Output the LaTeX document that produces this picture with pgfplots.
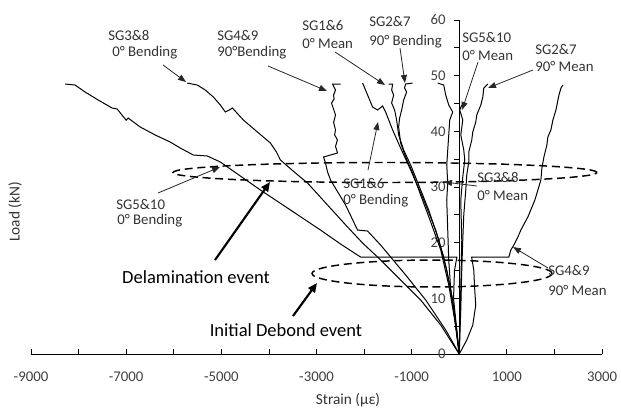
\documentclass[border=0pt]{standalone}
\usepackage{pgfplots}
\pgfplotsset{compat=1.18}
\usepackage{fontspec}
\setmainfont{Carlito}
\usetikzlibrary{arrows.meta}

\begin{document}
\begin{tikzpicture}
\useasboundingbox (0,0) rectangle (465.75pt,306pt);
\begin{axis}[
  at={(23.25pt,40.5pt)}, anchor=south west,
  scale only axis, width=428.25pt, height=250.5pt,
  xmin=-9000, xmax=3000, ymin=0, ymax=60,
  axis x line*=bottom, axis y line*=middle,
  xtick={-9000,-7000,-5000,-3000,-1000,1000,3000},
  xticklabels={-9000,-7000,-5000,-3000,-1000,1000,3000},
  minor xtick={-8000,-6000,-4000,-2000,0,2000},
  ytick={0,10,20,30,40,50,60}, yticklabels={0,10,20,30,40,50,60},
  minor ytick={5,15,25,35,45,55},
  xtick align=inside, ytick align=outside,
  major tick length=3.75pt, minor tick length=3.75pt,
  hide obscured y ticks=false, hide obscured x ticks=false,
  scaled x ticks=false,
  tick style={black, line width=0.6pt},
  axis line style={black, line width=0.75pt},
  ticklabel style={font=\fontsize{11.1}{13}\selectfont, text=black!75},
  xticklabel style={yshift=-10pt},
  yticklabel style={xshift=-3pt},
  clip=false,
]
% SG5&10 0 deg Bending
\addplot[black, line width=0.75pt] coordinates {
(0,0) (-60,5) (-120,10) (-100,15) (-50,17.42) (-2074,17.42) (-2495,19.76) (-2916,22.27)
(-3547,25.87) (-4179,29.46) (-4600,31.97) (-5021,34.49) (-5295,35.57) (-5589,35.75)
(-5863,37.0) (-6074,38.08) (-6389,39.34) (-6705,40.78) (-6958,42.39) (-7000,42.0) (-7189,44.01)
(-7295,44.19) (-7589,45.63) (-7863,47.06) (-8074,48.32) (-8284,48.50)};
% SG3&8 0 deg Bending
\addplot[black, line width=0.75pt] coordinates {
(0,0) (-389,5.2) (-811,9.7) (-1337,14.2) (-1716,17.42) (-2032,19.94) (-2347,22.81)
(-2768,26.76) (-3189,30.72) (-3442,32.51) (-3758,34.85) (-3842,36.29) (-3968,37.90)
(-4242,39.88) (-4537,42.03) (-4768,44.19) (-4832,43.83) (-4916,43.47) (-5021,44.73)
(-5168,46.17) (-5337,47.42) (-5505,48.32) (-5716,48.68)};
% SG4&9 90 deg Bending
\addplot[black, line width=0.75pt] coordinates {
(0,0) (-284,4.31) (-705,9.70) (-1126,14.19) (-1442,17.42) (-1653,19.58) (-1926,22.09)
(-2137,22.27) (-2389,26.76) (-2705,31.26) (-2768,32.69) (-2811,34.31) (-2853,35.39)
(-2558,36.11) (-2600,37.3) (-2560,38.44) (-2620,39.4) (-2600,40.24) (-2640,41.6) (-2600,42.93)
(-2684,45.09) (-2630,45.8) (-2642,46.52) (-2600,47.4) (-2663,48.50) (-2495,48.50)};
% SG1&6 0 deg Bending
\addplot[black, line width=0.75pt] coordinates {
(0,0) (-74,5.2) (-179,11.5) (-326,17.42) (-495,22.27) (-747,27.66) (-1021,33.05)
(-1232,37.0) (-1400,40.24) (-1547,43.47) (-1611,44.55) (-1716,43.83) (-1821,44.37)
(-1926,46.52) (-2032,48.68)};
% SG1&6 0 deg Mean
\addplot[black, line width=0.75pt] coordinates {
(0,0) (-53,4.31) (-137,9.70) (-263,15.09) (-432,20.48) (-642,25.87) (-853,30.36)
(-1021,33.95) (-1168,36.64) (-1274,39.34) (-1316,42.03) (-1358,43.83) (-1421,45.09)
(-1379,46.52) (-1420,47.4) (-1400,48.50) (-1484,48.50)};
% SG2&7 90 deg Bending
\addplot[black, line width=0.75pt] coordinates {
(0,0) (-95,6.11) (-221,12.39) (-389,18.68) (-600,23.71) (-811,28.56) (-979,32.51)
(-1126,35.39) (-1232,37.90) (-1274,40.78) (-1253,42.39) (-1210,43.83) (-1168,45.63)
(-1105,47.06) (-1150,47.8) (-1126,48.50) (-979,48.68)};
% SG3&8 0 deg Mean
\addplot[black, line width=0.75pt] coordinates {
(0,0) (-74,5.2) (-179,11.5) (-221,16.88) (-242,22.27) (-263,27.66) (-242,30.72)
(-263,33.95) (-242,36.64) (-221,39.34) (-200,42.03) (-137,43.47) (-221,44.73)
(-284,46.52) (-326,48.32) (-453,48.68)};
% SG5&10 0 deg Mean
\addplot[black, line width=0.75pt] coordinates {
(0,0) (11,4.3) (32,11.5) (53,20.48) (32,27.66) (74,31.8) (116,34.85) (95,36.64)
(32,39.34) (74,42.03) (11,43.83) (53,44.73)};
% SG2&7 90 deg Mean
\addplot[black, line width=0.75pt] coordinates {
(0,0) (32,7.9) (53,15.09) (74,20.48) (95,24.97) (137,29.46) (158,32.15) (200,34.49)
(200,36.29) (263,38.44) (284,39.88) (347,41.67) (368,42.93) (453,44.73) (495,46.17)
(516,47.78) (600,48.50)};
% SG4&9 90 deg Mean
\addplot[black, line width=0.75pt] coordinates {
(0,0) (158,2.5) (284,5.2) (347,8.8) (326,11.5) (305,15.09) (260,17.42) (1042,17.42)
(1084,18.68) (1147,19.58) (1232,21.02) (1295,22.27) (1442,24.61) (1589,27.66)
(1716,31.26) (1737,33.41) (1779,35.39) (1842,37.54) (1863,39.0) (1926,40.24)
(1968,42.03) (2032,43.83) (2053,44.73) (2095,46.52) (2137,47.78) (2179,48.32)};
\end{axis}

\begin{scope}[shift={(0pt,306pt)}, x=0.75pt, y=-0.75pt]
\tikzset{
  lbl/.style={anchor=west, font=\fontsize{11.1}{13}\selectfont, text=black!80, inner sep=0pt},
  big/.style={font=\fontsize{13.9}{16}\selectfont, text=black, inner sep=0pt},
  tarr/.style={-{Triangle[length=6pt,width=4.5pt]}, line width=0.6pt, black!85},
  barr/.style={-{Triangle[length=7pt,width=6pt]}, line width=1.6pt, black},
  ell/.style={dash pattern=on 6pt off 3.5pt, line width=1.1pt, black}
}
% ellipses
\draw[ell] (385,172.5) ellipse [x radius=159pt, y radius=7.5pt];
\draw[ell] (432,273.5) ellipse [x radius=90pt, y radius=10.1pt];
% labels
\node[lbl] at (108,35) {SG3\&8};
\node[lbl] at (112,53) {0° Bending};
\node[lbl] at (217,35) {SG4\&9};
\node[lbl] at (217,53) {90°Bending};
\node[lbl] at (302,25) {SG1\&6};
\node[lbl] at (302,43) {0° Mean};
\node[lbl] at (369,22) {SG2\&7};
\node[lbl] at (369,42) {90° Bending};
\node[lbl] at (462,37) {SG5\&10};
\node[lbl] at (462,55) {0° Mean};
\node[lbl] at (535,49) {SG2\&7};
\node[lbl] at (535,66) {90° Mean};
\node[lbl] at (116,204) {SG5\&10};
\node[lbl] at (117,221) {0° Bending};
\node[lbl] at (343,183) {SG1\&6};
\node[lbl] at (343,201) {0° Bending};
\node[lbl] at (477,177) {SG3\&8};
\node[lbl] at (477,195) {0° Mean};
\node[lbl] at (548,270) {SG4\&9};
\node[lbl] at (548,290) {90° Mean};
\node[big] at (196,277) {Delamination event};
\node[big] at (286,330) {Initial Debond event};
% axis titles
\node[font=\fontsize{11.5}{13}\selectfont, text=black!80, rotate=90] at (15,212) {Load (kN)};
\node[font=\fontsize{11.5}{13}\selectfont, text=black!80] at (348,400) {Strain (με)};
% arrows
\draw[tarr] (163,65) -- (186,82);
\draw[tarr] (268,66) -- (327,91);
\draw[tarr] (335,52) -- (385,85);
\draw[tarr] (400,48) -- (405,83);
\draw[tarr] (478,62) -- (462,110);
\draw[tarr] (533,70) -- (488,88);
\draw[tarr] (158,193) -- (220,167);
\draw[tarr] (368,170) -- (378,122);
\draw[tarr] (477,186) -- (444,182);
\draw[tarr] (548,268) -- (513,247);
\draw[barr] (215,260) -- (270,182);
\draw[barr] (293,316) -- (317,283);
\end{scope}
\end{tikzpicture}
\end{document}
